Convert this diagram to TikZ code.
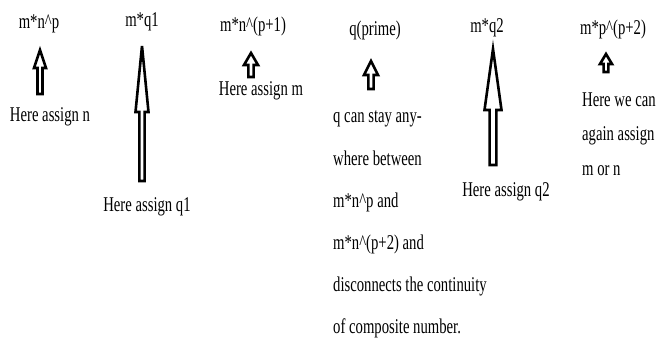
\documentclass[tikz,border=0pt]{standalone}
\usepackage{fontspec}
\setmainfont[FakeStretch=0.70]{Liberation Serif}
\newcommand\blockarrow[6]{%
  % #1 x, #2 tip y, #3 head base y, #4 bottom y, #5 head half width, #6 shaft half width
  \draw[arr] (#1,#2) -- (#1+#5,#3) -- (#1+#6,#3) -- (#1+#6,#4) -- (#1-#6,#4)
    -- (#1-#6,#3) -- (#1-#5,#3) -- cycle;}
\begin{document}
\begin{tikzpicture}[x=1pt,y=-1pt,
  lbl/.style={inner sep=0pt,font=\fontsize{21}{25}\selectfont,text=black},
  arr/.style={draw=black,fill=white,line width=2.6pt,line join=miter}]
\useasboundingbox (0,0) rectangle (658,343);
% top labels
\node[lbl,anchor=base] (t1) at (39,28) {m*n\^{}p};
\node[lbl,anchor=base] (t2) at (142,26) {m*q1};
\node[lbl,anchor=base] (t3) at (253,31) {m*n\^{}(p+1)};
\node[lbl,anchor=base] (t4) at (375,35) {q(prime)};
\node[lbl,anchor=base] (t5) at (487,32) {m*q2};
\node[lbl,anchor=base] (t6) at (613,34) {m*p\^{}(p+2)};
% arrows
\blockarrow{40}{50}{68}{94}{6}{2.5}
\blockarrow{142}{46}{112}{181}{6.5}{2.6}
\blockarrow{251}{53}{65}{77}{7}{2.6}
\blockarrow{371}{61}{75}{89}{7}{2.6}
\blockarrow{493}{49}{110}{165}{8.5}{3.4}
\blockarrow{606}{54}{64}{72}{6}{2.4}
% bottom labels
\node[lbl,anchor=base] (b1) at (50,121) {Here assign n};
\node[lbl,anchor=base] (b2) at (147,211) {Here assign q1};
\node[lbl,anchor=base] (b3) at (261,95) {Here assign m};
\node[lbl,anchor=base] (b5) at (506,196) {Here assign q2};
\node[lbl,anchor=base west] (q1) at (333,122) {q can stay any-};
\node[lbl,anchor=base west] (q2) at (333,165) {where between};
\node[lbl,anchor=base west] (q3) at (333,207) {m*n\^{}p and};
\node[lbl,anchor=base west] (q4) at (333,249) {m*n\^{}(p+2) and};
\node[lbl,anchor=base west] (q5) at (333,291) {disconnects the continuity};
\node[lbl,anchor=base west] (q6) at (333,333) {of composite number.};
\node[lbl,anchor=base west] (w1) at (582,106) {Here we can};
\node[lbl,anchor=base west] (w2) at (582,140) {again assign};
\node[lbl,anchor=base west] (w3) at (582,175) {m or n};
\end{tikzpicture}
\end{document}
